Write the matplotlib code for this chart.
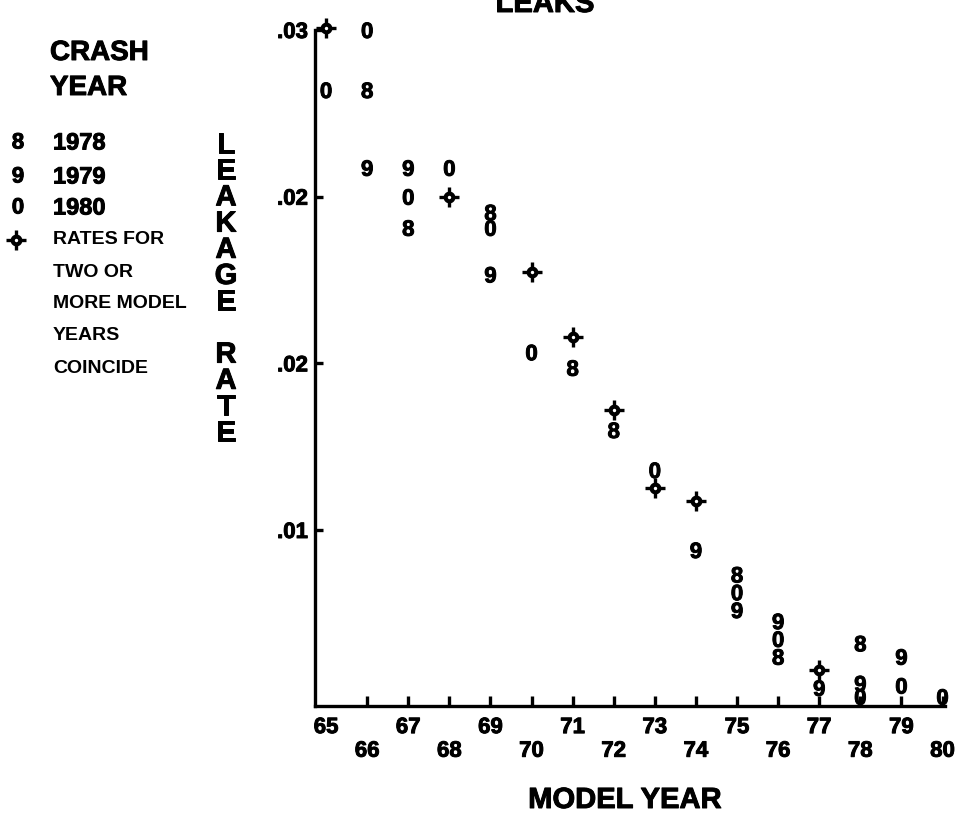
import numpy as np
import matplotlib
matplotlib.use("Agg")
import matplotlib.pyplot as plt
import matplotlib.patheffects as pe

# ---- data -------------------------------------------------------------
model_years = np.arange(65, 81)
upper_years = model_years[model_years % 2 == 1]   # 65, 67, ... 79
lower_years = model_years[model_years % 2 == 0]   # 66, 68, ... 80

y_ticks = [0.0075, 0.015, 0.0225, 0.03]
y_tick_labels = [".01", ".02", ".02", ".03"]

crash_symbols = ["8", "9", "0"]
crash_years = ["1978", "1979", "1980"]

nan = np.nan
rate_1978 = [0.0301, 0.0273, 0.0211, 0.0225, 0.0218, 0.0191, 0.0148, 0.0120,
             0.0094, 0.0088, 0.0055, 0.0018, 0.0012, 0.0024, nan, nan]
rate_1979 = [0.0301, 0.0238, 0.0238, 0.0225, 0.0190, 0.0191, 0.0162, 0.0129,
             0.0094, 0.0066, 0.0039, 0.0034, 0.0004, 0.0006, 0.0018, nan]
rate_1980 = [0.0273, 0.0300, 0.0225, 0.0238, 0.0211, 0.0155, 0.0162, 0.0129,
             0.0102, 0.0088, 0.0047, 0.0026, 0.0012, 0.0000, 0.0005, 0.0000]

legend_note = ["RATES FOR", "TWO OR", "MORE MODEL", "YEARS", "COINCIDE"]

# ---- figure -----------------------------------------------------------
W, H = 956, 822
plt.rcParams["font.family"] = ["Liberation Sans", "DejaVu Sans"]
fig = plt.figure(figsize=(W / 100, H / 100), dpi=100)
HEAVY = [pe.withStroke(linewidth=0.7, foreground="black")]
BOLD = dict(fontweight="bold", color="black", path_effects=HEAVY)


def fx(px):
    return px / W


def fy(py):
    return 1 - py / H


ax = fig.add_axes([fx(315), fy(706), fx(945) - fx(315), fy(30) - fy(706)])
ax.set_xlim(64.73, 80.06)
ax.set_ylim(-0.00042, 0.03)

for s in ("top", "right"):
    ax.spines[s].set_visible(False)
for s in ("left", "bottom"):
    ax.spines[s].set_linewidth(2.4)
    ax.spines[s].set_capstyle("projecting")

# y axis
ax.set_yticks(y_ticks)
ax.set_yticklabels(y_tick_labels, fontsize=16, **BOLD)
ax.tick_params(axis="y", direction="in", length=6, width=2.4, pad=5)

# x axis: odd years on the upper row, even years on the lower row
ax.set_xticks(upper_years)
ax.set_xticklabels([str(v) for v in upper_years], fontsize=16, **BOLD)
ax.set_xticks(lower_years, minor=True)
ax.set_xticklabels([str(v) for v in lower_years], minor=True, fontsize=16, **BOLD)
ax.tick_params(axis="x", which="major", direction="in", length=7, width=2.4, pad=8)
ax.tick_params(axis="x", which="minor", direction="in", length=7, width=2.4, pad=25)
ax.xaxis.get_major_ticks()[0].tick1line.set_visible(False)

# ---- plotted symbols --------------------------------------------------
series = [rate_1978, rate_1979, rate_1980]


def coincide_marker(x, y, transform=None):
    kw = {} if transform is None else {"transform": transform}
    ax.plot([x], [y], marker="+", ms=14, mew=2.4, color="black",
            clip_on=False, zorder=4, **kw)
    ax.plot([x], [y], marker="o", ms=5.5, mfc="white", mec="black", mew=3.0,
            clip_on=False, zorder=5, **kw)


for i, yr in enumerate(model_years):
    vals = [s[i] for s in series]
    used = [False] * 3
    for a in range(3):
        if np.isnan(vals[a]) or used[a]:
            continue
        group = [b for b in range(3)
                 if not np.isnan(vals[b]) and abs(vals[b] - vals[a]) < 1e-9]
        for b in group:
            used[b] = True
        if len(group) > 1:
            coincide_marker(yr, vals[a])
        else:
            ax.text(yr, vals[a], crash_symbols[a], ha="center",
                    va="center_baseline", fontsize=16, clip_on=False,
                    zorder=5, **BOLD)

# ---- titles and labels ------------------------------------------------
fig.text(fx(545), fy(12), "LEAKS", ha="center", va="baseline",
         fontsize=21, **BOLD)
fig.text(fx(625), fy(800), "MODEL YEAR", ha="center", va="center",
         fontsize=21, **BOLD)

axis_word = "LEAKAGE RATE"
for k, ch in enumerate(axis_word):
    if ch == " ":
        continue
    fig.text(fx(226), fy(145 + k * 26.2), ch, ha="center", va="center",
             fontsize=21, **BOLD)

# ---- key --------------------------------------------------------------
fig.text(fx(50), fy(53), "CRASH", ha="left", va="center", fontsize=20, **BOLD)
fig.text(fx(50), fy(88), "YEAR", ha="left", va="center", fontsize=20, **BOLD)

key_rows = [143, 177, 208]
for sym, yr_label, ry in zip(crash_symbols, crash_years, key_rows):
    fig.text(fx(18), fy(ry), sym, ha="center", va="center", fontsize=16, **BOLD)
    fig.text(fx(53), fy(ry), yr_label, ha="left", va="center", fontsize=17, **BOLD)

coincide_marker(fx(16), fy(240), transform=fig.transFigure)
for k, line in enumerate(legend_note):
    fig.text(fx(53), fy(240 + k * 32), line, ha="left", va="center",
             fontsize=14, fontweight="bold", color="black")

fig.savefig("out.png", dpi=100, facecolor="white")
